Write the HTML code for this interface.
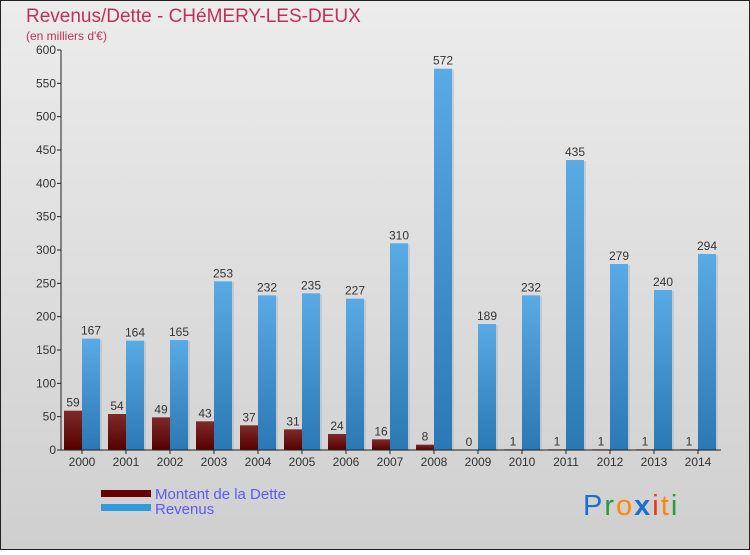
<!DOCTYPE html>
<html><head><meta charset="utf-8"><style>
body{margin:0;width:750px;height:550px;overflow:hidden;font-family:"Liberation Sans",sans-serif}
</style></head><body>
<svg id="c" width="750" height="550" xmlns="http://www.w3.org/2000/svg">
<defs>
<linearGradient id="bg" x1="0" y1="0" x2="0" y2="1"><stop offset="0" stop-color="#ececec"/><stop offset="1" stop-color="#cfcfcf"/></linearGradient>
<linearGradient id="gr" x1="0" y1="0" x2="0" y2="1"><stop offset="0" stop-color="#7e2a2a"/><stop offset="1" stop-color="#560000"/></linearGradient>
<linearGradient id="gb" x1="0" y1="0" x2="0" y2="1"><stop offset="0" stop-color="#5aaae6"/><stop offset="1" stop-color="#2a78b4"/></linearGradient>
</defs>
<rect x="0.5" y="0.5" width="749" height="549" fill="url(#bg)" stroke="#222"/>
<text x="26" y="22" font-size="19" fill="#c0305a">Revenus/Dette - CHéMERY-LES-DEUX</text>
<text x="26" y="40" font-size="12" fill="#c0305a">(en milliers d'€)</text>
<g id="plot"></g>
<g>
<rect x="101" y="490" width="50" height="7" fill="#660000"/>
<rect x="101" y="504" width="50" height="7" fill="#3399dd"/>
<text x="155" y="499" font-size="15" fill="#5a5aff">Montant de la Dette</text>
<text x="155" y="514" font-size="15" fill="#5a5aff">Revenus</text>
</g>
<text x="583" y="515" font-size="29" letter-spacing="2"><tspan fill="#1a6fcf">P</tspan><tspan fill="#2a9a3a">r</tspan><tspan fill="#ff8800">o</tspan><tspan fill="#1a6fcf" font-weight="bold">x</tspan><tspan fill="#ee3311">i</tspan><tspan fill="#ff8800">t</tspan><tspan fill="#2a9a3a">i</tspan></text>
</svg>
<script>
const years=["2000","2001","2002","2003","2004","2005","2006","2007","2008","2009","2010","2011","2012","2013","2014"];
const dette=[59,54,49,43,37,31,24,16,8,0,1,1,1,1,1];
const revenus=[167,164,165,253,232,235,227,310,572,189,232,435,279,240,294];
const yTicks=[0,50,100,150,200,250,300,350,400,450,500,550,600];
const NS="http://www.w3.org/2000/svg";
const g=document.getElementById('plot');
const y0=450,yMax=600,yTop=50,x0=60,gw=44;
const Y=v=>y0-(v/yMax)*(y0-yTop);
const X=i=>x0+gw/2+gw*i;
function mk(t,a,txt){const e=document.createElementNS(NS,t);for(const k in a)e.setAttribute(k,a[k]);if(txt!==undefined)e.textContent=txt;g.appendChild(e);return e;}
yTicks.forEach(v=>{
 const l=mk('line',{x1:57,x2:61,y1:Y(v),y2:Y(v),stroke:'#222'});
 
 
 const t=mk('text',{x:56,y:Y(v)+4,'text-anchor':'end','font-size':12,fill:'#333'},v);
 
 
});
years.forEach((yr,i)=>{
 const c=X(i);
 const s1=mk('rect',{x:c-16,y:Y(dette[i])+1,width:18,height:y0-Y(dette[i]),fill:'#bbb',opacity:0.6});
 
 
 const b1=mk('rect',{x:c-18,y:Y(dette[i]),width:18,height:y0-Y(dette[i]),fill:'url(#gr)'});
 
 
 const s2=mk('rect',{x:c+2,y:Y(revenus[i])+1,width:18,height:y0-Y(revenus[i]),fill:'#bbb',opacity:0.6});
 
 
 const b2=mk('rect',{x:c,y:Y(revenus[i]),width:18,height:y0-Y(revenus[i]),fill:'url(#gb)'});
 
 
 const l1=mk('text',{x:c-9,y:Y(dette[i])-4,'text-anchor':'middle','font-size':12,fill:'#333'},dette[i]);
 
 
 const l2=mk('text',{x:c+9,y:Y(revenus[i])-4,'text-anchor':'middle','font-size':12,fill:'#333'},revenus[i]);
 
 
 const tk=mk('line',{x1:c,x2:c,y1:y0,y2:y0+4,stroke:'#222'});
 
 
 const xl=mk('text',{x:c,y:466,'text-anchor':'middle','font-size':12,fill:'#333'},yr);
 
 
});
const ya=mk('line',{x1:61,x2:61,y1:yTop,y2:y0,stroke:'#222'});


const xa=mk('line',{x1:61,x2:721,y1:y0,y2:y0,stroke:'#222'});


</script>
</body></html>
